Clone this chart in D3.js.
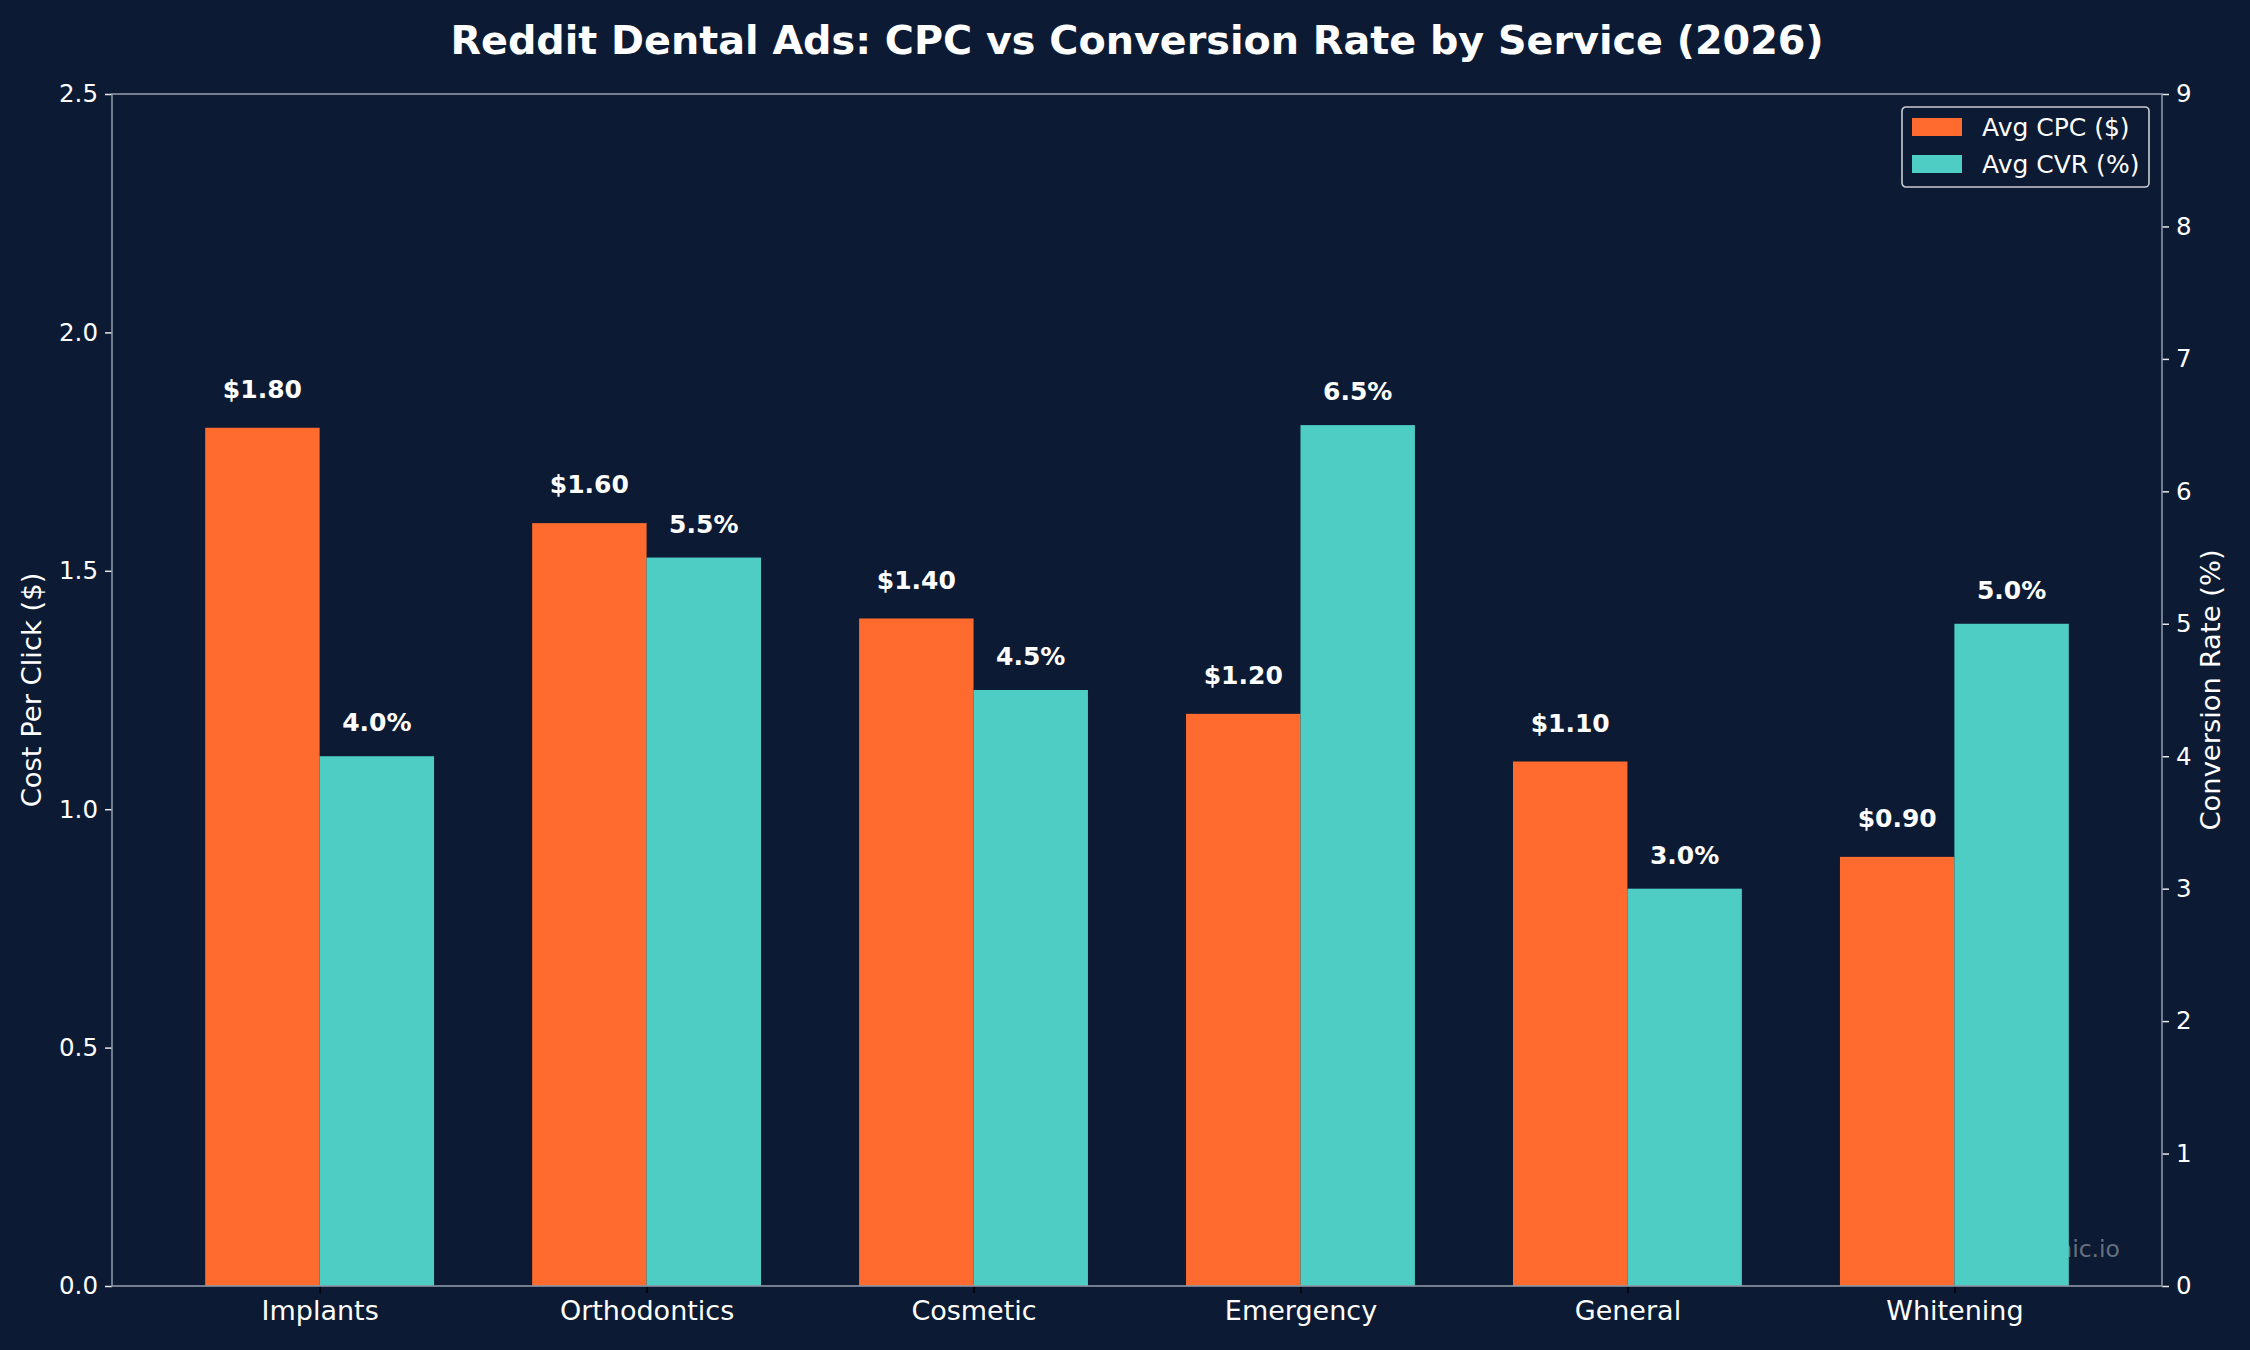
<!DOCTYPE html>
<html>
<head>
<meta charset="utf-8">
<script src="https://cdn.jsdelivr.net/npm/d3@7"></script>
<style>
    html, body { margin: 0; padding: 0; background: #0c1b33; }
    text { font-family: "DejaVu Sans", sans-serif; }
</style>
</head>
<body>
<svg id="dental-chart"></svg>
<script>
/*--------------------------------------------------------------------------------
----- DUAL AXIS BAR CHART (CPC vs conversion rate by dental service)
--------------------------------------------------------------------------------*/

// Services shown along the X-axis
const services = ["Implants", "Orthodontics", "Cosmetic", "Emergency", "General", "Whitening"];

// Average cost per click in dollars for each service
const cpc_values = [1.80, 1.60, 1.40, 1.20, 1.10, 0.90];

// Average conversion rate in percent for each service
const cvr_values = [4.0, 5.5, 4.5, 6.5, 3.0, 5.0];

// Tick labels of both Y-axes
const cpc_ticks = [0.0, 0.5, 1.0, 1.5, 2.0, 2.5];
const cvr_ticks = [0, 1, 2, 3, 4, 5, 6, 7, 8, 9];

// Legend entries
const legend_labels = ["Avg CPC ($)", "Avg CVR (%)"];

// Colours of the chart
const bg_color = "#0c1b33";
const cpc_color = "#ff6b2f";
const cvr_color = "#4ecdc4";
const spine_color = "#8d96a5";

// Configure the dimensions of the chart
const chart_width = 2250, chart_height = 1350;
const chart_margins = { top: 94, right: 88, bottom: 64, left: 112 };
const bar_width = 0.35;

// Create the chart container
const chart_svg = d3.select("#dental-chart")
    .attr("width", chart_width)
    .attr("height", chart_height);

chart_svg.append("rect")
    .attr("width", chart_width)
    .attr("height", chart_height)
    .attr("fill", bg_color);

// Create the scales for the X-axis and both Y-axes
const x_scale = d3.scaleLinear()
    .domain([-bar_width - 0.285, services.length - 1 + bar_width + 0.285])
    .range([chart_margins.left, chart_width - chart_margins.right]);
const cpc_scale = d3.scaleLinear()
    .domain([0, 2.5])
    .range([chart_height - chart_margins.bottom, chart_margins.top]);
const cvr_scale = d3.scaleLinear()
    .domain([0, 9])
    .range([chart_height - chart_margins.bottom, chart_margins.top]);

// Watermark drawn below the bars
chart_svg.append("text")
    .attr("x", 2120)
    .attr("y", 1257)
    .attr("text-anchor", "end")
    .attr("font-size", 23.5)
    .attr("fill", "#ffffff")
    .attr("fill-opacity", 0.38)
    .text("dentalclinic.io");

// Draw the CPC bars (left half of each group)
chart_svg.append("g")
    .selectAll("rect")
    .data(cpc_values)
    .enter().append("rect")
    .attr("x", function (d, i) { return x_scale(i - bar_width); })
    .attr("y", function (d) { return cpc_scale(d); })
    .attr("width", function (d, i) { return x_scale(i) - x_scale(i - bar_width); })
    .attr("height", function (d) { return cpc_scale(0) - cpc_scale(d); })
    .attr("fill", cpc_color);

// Draw the CVR bars (right half of each group)
chart_svg.append("g")
    .selectAll("rect")
    .data(cvr_values)
    .enter().append("rect")
    .attr("x", function (d, i) { return x_scale(i); })
    .attr("y", function (d) { return cvr_scale(d); })
    .attr("width", function (d, i) { return x_scale(i + bar_width) - x_scale(i); })
    .attr("height", function (d) { return cvr_scale(0) - cvr_scale(d); })
    .attr("fill", cvr_color);

// Value labels above the bars
chart_svg.append("g")
    .selectAll("text")
    .data(cpc_values)
    .enter().append("text")
    .attr("x", function (d, i) { return x_scale(i - bar_width / 2); })
    .attr("y", function (d) { return cpc_scale(d + 0.05) - 6; })
    .attr("text-anchor", "middle")
    .attr("font-size", 25)
    .attr("font-weight", "bold")
    .attr("fill", "#ffffff")
    .text(function (d) { return "$" + d.toFixed(2); });

chart_svg.append("g")
    .selectAll("text")
    .data(cvr_values)
    .enter().append("text")
    .attr("x", function (d, i) { return x_scale(i + bar_width / 2); })
    .attr("y", function (d) { return cvr_scale(d + 0.15) - 5; })
    .attr("text-anchor", "middle")
    .attr("font-size", 25)
    .attr("font-weight", "bold")
    .attr("fill", "#ffffff")
    .text(function (d) { return d.toFixed(1) + "%"; });

// Add the X-axis with the service names
const x_axis = chart_svg.append("g")
    .attr("transform", "translate(0," + (chart_height - chart_margins.bottom) + ")")
    .call(d3.axisBottom(x_scale)
        .tickValues(d3.range(services.length))
        .tickFormat(function (d) { return services[d]; })
        .tickSize(7).tickPadding(8));
x_axis.select(".domain").remove();
x_axis.selectAll(".tick line").attr("stroke", "#000000").attr("stroke-width", 1.5);
x_axis.selectAll(".tick text")
    .attr("fill", "#ffffff")
    .attr("font-size", 27)
    .attr("font-family", "DejaVu Sans");

// Add the left Y-axis (cost per click)
const left_axis = chart_svg.append("g")
    .attr("transform", "translate(" + chart_margins.left + ",0)")
    .call(d3.axisLeft(cpc_scale)
        .tickValues(cpc_ticks)
        .tickFormat(d3.format(".1f"))
        .tickSize(7).tickPadding(7));
left_axis.select(".domain").remove();
left_axis.selectAll(".tick line").attr("stroke", "#e8e8e8").attr("stroke-width", 1.5);
left_axis.selectAll(".tick text")
    .attr("fill", "#ffffff")
    .attr("font-size", 24.5)
    .attr("font-family", "DejaVu Sans");

// Add the right Y-axis (conversion rate)
const right_axis = chart_svg.append("g")
    .attr("transform", "translate(" + (chart_width - chart_margins.right) + ",0)")
    .call(d3.axisRight(cvr_scale)
        .tickValues(cvr_ticks)
        .tickFormat(d3.format("d"))
        .tickSize(7).tickPadding(7));
right_axis.select(".domain").remove();
right_axis.selectAll(".tick line").attr("stroke", "#e8e8e8").attr("stroke-width", 1.5);
right_axis.selectAll(".tick text")
    .attr("fill", "#ffffff")
    .attr("font-size", 24.5)
    .attr("font-family", "DejaVu Sans");

// Draw the four spines around the plot area
chart_svg.append("rect")
    .attr("x", chart_margins.left)
    .attr("y", chart_margins.top)
    .attr("width", chart_width - chart_margins.left - chart_margins.right)
    .attr("height", chart_height - chart_margins.top - chart_margins.bottom)
    .attr("fill", "none")
    .attr("stroke", spine_color)
    .attr("stroke-width", 1.6);

// Axis titles
chart_svg.append("text")
    .attr("transform", "translate(33," + ((chart_margins.top + chart_height - chart_margins.bottom) / 2) + ") rotate(-90)")
    .attr("text-anchor", "middle")
    .attr("dominant-baseline", "middle")
    .attr("font-size", 27.4)
    .attr("fill", "#ffffff")
    .text("Cost Per Click ($)");

chart_svg.append("text")
    .attr("transform", "translate(2212," + ((chart_margins.top + chart_height - chart_margins.bottom) / 2) + ") rotate(-90)")
    .attr("text-anchor", "middle")
    .attr("dominant-baseline", "middle")
    .attr("font-size", 27.4)
    .attr("fill", "#ffffff")
    .text("Conversion Rate (%)");

// Chart title centred over the plot area
chart_svg.append("text")
    .attr("x", (chart_margins.left + chart_width - chart_margins.right) / 2)
    .attr("y", 53.5)
    .attr("text-anchor", "middle")
    .attr("font-size", 39.7)
    .attr("font-weight", "bold")
    .attr("fill", "#ffffff")
    .text("Reddit Dental Ads: CPC vs Conversion Rate by Service (2026)");

// Legend box in the upper right corner
const legend_g = chart_svg.append("g")
    .attr("transform", "translate(1902,107)");
legend_g.append("rect")
    .attr("width", 247)
    .attr("height", 80)
    .attr("rx", 4)
    .attr("fill", bg_color)
    .attr("stroke", "#c9ccd2")
    .attr("stroke-width", 1.6);
legend_g.selectAll(".legend-entry")
    .data(legend_labels)
    .enter().append("g")
    .attr("class", "legend-entry")
    .attr("transform", function (d, i) { return "translate(0," + (20 + i * 37) + ")"; })
    .each(function (d, i) {
        d3.select(this).append("rect")
            .attr("x", 10).attr("y", -9)
            .attr("width", 50).attr("height", 18)
            .attr("fill", i === 0 ? cpc_color : cvr_color);
        d3.select(this).append("text")
            .attr("x", 80)
            .attr("dy", "0.35em")
            .attr("font-size", 25)
            .attr("fill", "#ffffff")
            .text(d);
    });
</script>
</body>
</html>
